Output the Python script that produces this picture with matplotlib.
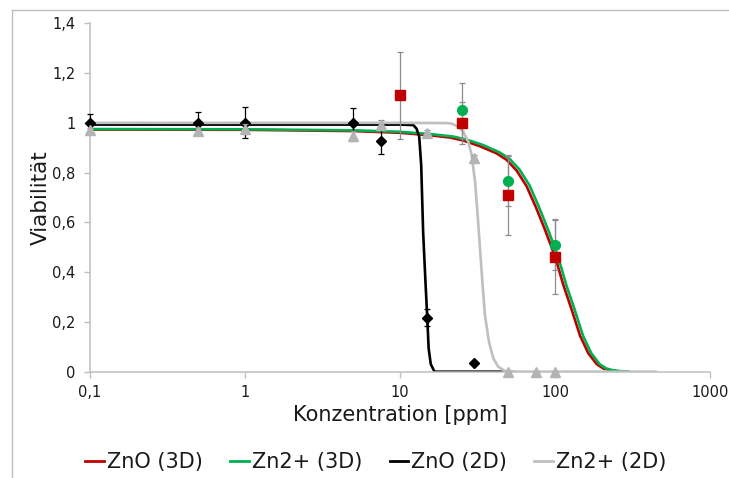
import matplotlib
matplotlib.use("Agg")
import matplotlib.pyplot as plt
from matplotlib.lines import Line2D
from matplotlib.ticker import FixedLocator, FixedFormatter, NullLocator

# ---- measured data (markers) ----
zno3d_x = [10, 25, 50, 100]
zno3d_y = [1.11, 1.00, 0.71, 0.462]
zno3d_err = [0.175, 0.085, 0.16, 0.15]

zn3d_x = [25, 50, 100]
zn3d_y = [1.05, 0.767, 0.509]
zn3d_err = [0.11, 0.10, 0.10]

zno2d_x = [0.1, 0.5, 1, 5, 7.5, 15, 30]
zno2d_y = [1.0, 1.0, 1.0, 1.0, 0.928, 0.217, 0.034]
zno2d_err = [0.035, 0.045, 0.062, 0.058, 0.055, 0.035, 0.0]

zn2d_x = [0.1, 0.5, 1, 5, 7.5, 15, 30, 50, 75, 100]
zn2d_y = [0.971, 0.968, 0.977, 0.946, 0.99, 0.96, 0.857, 0.0, 0.0, 0.0]
zn2d_err = [0.01, 0.01, 0.02, 0.02, 0.02, 0.01, 0.015, 0.0, 0.0, 0.0]

# ---- fitted curves ----
fit_zno3d_x = [0.1, 1, 5, 10, 15.6, 21, 25.6, 32.8, 42.1, 48.8, 56.6, 65.6,
               75.4, 86, 95, 102.6, 113, 128, 145, 164, 186, 205, 226, 260, 290]
fit_zno3d_y = [0.973, 0.972, 0.967, 0.96, 0.95, 0.941, 0.929, 0.906, 0.877,
               0.851, 0.808, 0.745, 0.66, 0.572, 0.5, 0.44, 0.35, 0.25, 0.145,
               0.074, 0.03, 0.013, 0.006, 0.001, 0.0]

fit_zn3d_x = [0.1, 1, 5, 10, 15.6, 22, 26.8, 34.3, 44, 51, 59.1, 68.6, 78.8,
              89.9, 99.3, 107.2, 118, 133.8, 151.5, 171.4, 194.4, 214, 236,
              272, 300]
fit_zn3d_y = [0.975, 0.974, 0.97, 0.964, 0.955, 0.945, 0.933, 0.911, 0.881,
              0.855, 0.812, 0.748, 0.662, 0.573, 0.501, 0.44, 0.35, 0.25,
              0.145, 0.074, 0.03, 0.013, 0.006, 0.001, 0.0]

fit_zno2d_x = [0.1, 1, 10, 12.2, 12.8, 13.3, 13.7, 14.1, 14.6, 15.0, 15.3,
               15.8, 16.7, 20, 30, 49]
fit_zno2d_y = [0.993, 0.993, 0.993, 0.991, 0.976, 0.945, 0.83, 0.562, 0.36,
               0.214, 0.094, 0.03, 0.0, 0.0, 0.0, 0.0]

fit_zn2d_x = [0.1, 1, 10, 20, 21.5, 23.8, 25.6, 27.6, 29, 30.5, 31.7, 32.8,
              34, 35.3, 37.5, 40, 43, 47.5, 60, 100, 445]
fit_zn2d_y = [1.0, 1.0, 1.0, 0.999, 0.997, 0.984, 0.964, 0.924, 0.87, 0.763,
              0.629, 0.496, 0.361, 0.228, 0.12, 0.054, 0.02, 0.003, 0.0, 0.0,
              0.0]

series_names = ["ZnO (3D)", "Zn2+ (3D)", "ZnO (2D)", "Zn2+ (2D)"]
x_ticks = [0.1, 1, 10, 100, 1000]
x_tick_labels = ["0,1", "1", "10", "100", "1000"]
y_ticks = [0, 0.2, 0.4, 0.6, 0.8, 1.0, 1.2, 1.4]
y_tick_labels = ["0", "0,2", "0,4", "0,6", "0,8", "1", "1,2", "1,4"]

RED = "#C00000"
GREEN = "#00B050"
BLACK = "#000000"
GREY = "#BFBFBF"
ERRG = "#8C8C8C"
AXC = "#BFBFBF"

plt.rcParams["font.family"] = ["DejaVu Sans"]

W, H = 729, 478
fig = plt.figure(figsize=(W / 100, H / 100), dpi=100)
ax = fig.add_axes([90 / W, 1 - 371.7 / H, 620 / W, 348.4 / H])

lw = 1.9
ax.plot(fit_zno3d_x, fit_zno3d_y, color=RED, lw=lw, zorder=2, solid_joinstyle="round")
ax.plot(fit_zn3d_x, fit_zn3d_y, color=GREEN, lw=lw, zorder=2.1, solid_joinstyle="round")
ax.plot(fit_zno2d_x, fit_zno2d_y, color=BLACK, lw=lw, zorder=2.2, solid_joinstyle="round")
ax.plot(fit_zn2d_x, fit_zn2d_y, color=GREY, lw=lw, zorder=2.3, solid_joinstyle="round")

eb_kw = dict(elinewidth=0.9, capsize=2.5, capthick=0.9, clip_on=False)
ax.errorbar(zno2d_x, zno2d_y, yerr=zno2d_err, fmt="D", color=BLACK, ms=5.5,
            ecolor=BLACK, zorder=3, **eb_kw)
ax.errorbar(zn2d_x, zn2d_y, yerr=zn2d_err, fmt="^", color="#B4B4B4", ms=6.5,
            ecolor=ERRG, zorder=3.1, **eb_kw)
ax.errorbar(zno3d_x, zno3d_y, yerr=zno3d_err, fmt="s", color=RED, ms=6.5,
            ecolor=ERRG, zorder=3.2, **eb_kw)
ax.errorbar(zn3d_x, zn3d_y, yerr=zn3d_err, fmt="o", color=GREEN, ms=7,
            ecolor=ERRG, zorder=3.1, **eb_kw)

ax.set_xscale("log")
ax.set_xlim(0.1, 1000)
ax.set_ylim(0, 1.4)
ax.xaxis.set_major_locator(FixedLocator(x_ticks))
ax.xaxis.set_major_formatter(FixedFormatter(x_tick_labels))
ax.xaxis.set_minor_locator(NullLocator())
ax.yaxis.set_major_locator(FixedLocator(y_ticks))
ax.yaxis.set_major_formatter(FixedFormatter(y_tick_labels))

for s in ["top", "right"]:
    ax.spines[s].set_visible(False)
for s in ["left", "bottom"]:
    ax.spines[s].set_color(AXC)
    ax.spines[s].set_linewidth(1.1)
ax.tick_params(axis="both", which="major", direction="out", length=4.5,
               width=1.0, color=AXC, labelcolor="#1a1a1a", labelsize=10.5)
ax.tick_params(axis="y", pad=6)
ax.tick_params(axis="x", pad=5)

ax.set_xlabel("Konzentration [ppm]", fontsize=15, color="#1a1a1a")
ax.xaxis.set_label_coords(0.5, -0.095)
ax.set_ylabel("Viabilität", fontsize=15.5, color="#1a1a1a")
ax.yaxis.set_label_coords(-0.063, 0.5)

handles = [Line2D([], [], color=c, lw=2) for c in [RED, GREEN, BLACK, GREY]]
fig.legend(handles, series_names, loc="center", bbox_to_anchor=(376 / W, 1 - 462 / H),
           ncol=4, frameon=False, fontsize=15, handlelength=0.9,
           handletextpad=0.15, columnspacing=1.3, labelcolor="#1a1a1a")

# chart-area border (left and top edges visible)
fig.add_artist(Line2D([12 / W, 12 / W], [0, 1 - 10 / H], color=AXC, lw=1.0,
                      transform=fig.transFigure))
fig.add_artist(Line2D([12 / W, 1.0], [1 - 10 / H, 1 - 10 / H], color=AXC, lw=1.0,
                      transform=fig.transFigure))

fig.savefig("out.png", dpi=100)
